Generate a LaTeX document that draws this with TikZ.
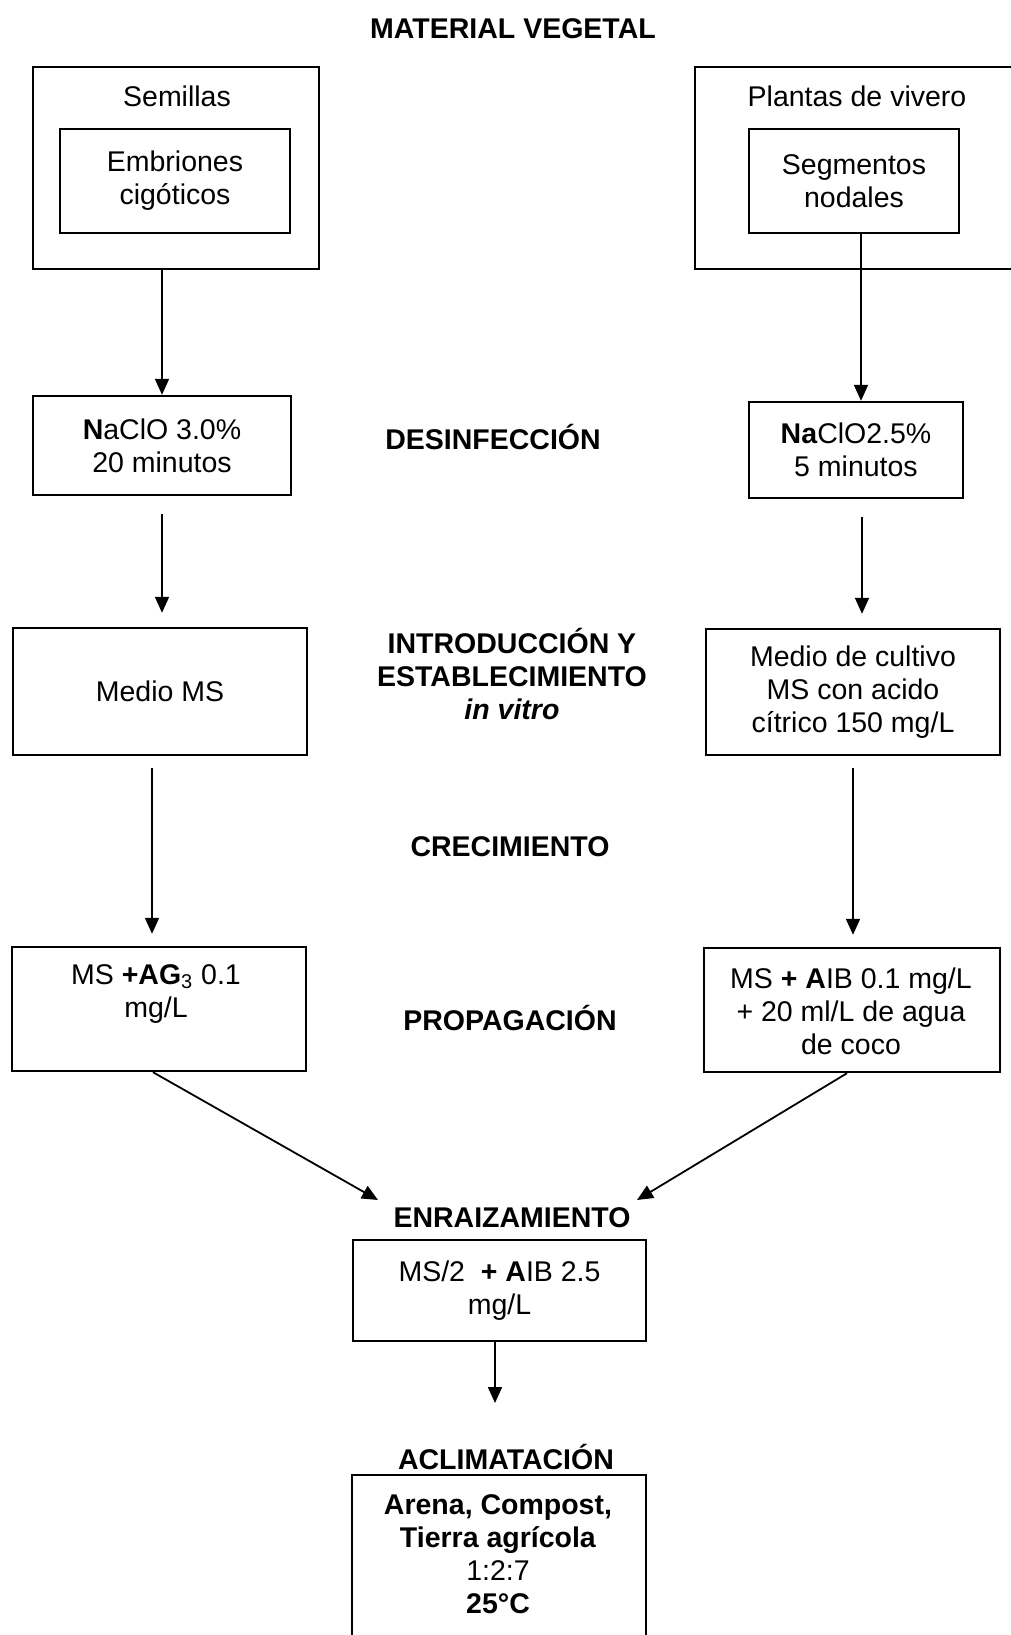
\documentclass[tikz,border=0pt]{standalone}
\usepackage{fontspec}
\setmainfont{Liberation Sans}
\usetikzlibrary{arrows.meta, positioning}

\begin{document}
\begin{tikzpicture}[
    x=0.5pt, y=-0.5pt,
    every node/.style={font=\fontsize{14.25}{16.5}\selectfont},
    box/.style={draw, line width=1.2pt, inner sep=0pt, align=center},
    head/.style={inner sep=0pt, align=center,
                 font=\fontsize{14.25}{16.5}\selectfont\bfseries},
    txt/.style={inner sep=0pt, align=center},
    arr/.style={-{Triangle[length=8pt, width=7pt]}, line width=0.9pt},
    gap/.style={shorten <=9pt, shorten >=7pt}
  ]
  \useasboundingbox[fill=white] (0,0) rectangle (1011,1635);

  \node[head] (title) at (513,29) {MATERIAL VEGETAL};

  % material de partida
  \node[box, minimum width=143pt, minimum height=101pt] (seedout) at (176,168) {};
  \node[txt] (seedtxt) at (177,96) {Semillas};
  \node[box, minimum width=115pt, minimum height=52pt] (seedin) at (175,181)
    {Embriones\\cigóticos};
  \node[box, minimum width=172.5pt, minimum height=101pt] (nurseout) at (867.5,168) {};
  \node[txt] (nursetxt) at (857,96) {Plantas de vivero};
  \node[box, minimum width=105pt, minimum height=52pt] (nursein) at (854,181)
    {Segmentos\\nodales};

  % desinfeccion
  \node[box, minimum width=129pt, minimum height=49.5pt] (dis1) at (162,445.5)
    {\textbf{N}aClO 3.0\%\\20 minutos};
  \node[head] (dislbl) at (493,437) {DESINFECCIÓN};
  \node[box, minimum width=107pt, minimum height=48pt] (dis2) at (856,450)
    {\textbf{Na}ClO2.5\%\\ 5 minutos};

  % establecimiento
  \node[box, minimum width=147pt, minimum height=63.5pt] (est1) at (160,691.5)
    {Medio MS};
  \node[head] (estlbl) at (512,674)
    {INTRODUCCIÓN Y\\ESTABLECIMIENTO\\\textit{in vitro}};
  \node[box, minimum width=147pt, minimum height=63pt] (est2) at (853,692)
    {Medio de cultivo\\MS con acido\\cítrico 150 mg/L};

  \node[head] (crelbl) at (510,847) {CRECIMIENTO};

  % propagacion
  \node[box, minimum width=147pt, minimum height=62pt] (prop1) at (159,1009) {};
  \node[txt] (prop1txt) at (156,994)
    {MS \textbf{+AG}\textsubscript{3} 0.1\\mg/L};
  \node[head] (proplbl) at (510,1018) {PROPAGACIÓN};
  \node[box, minimum width=148pt, minimum height=62pt] (prop2) at (852,1010) {};
  \node[txt] (prop2txt) at (851,1011)
    {MS \textbf{+ A}IB 0.1 mg/L\\+ 20 ml/L de agua\\de coco};

  % enraizamiento
  \node[head] (rootlbl) at (512,1218) {ENRAIZAMIENTO};
  \node[box, minimum width=146.5pt, minimum height=50.5pt] (root) at (499.5,1290.5)
    {MS/2 \ \textbf{+ A}IB 2.5\\mg/L};

  % aclimatacion
  \node[head] (acclbl) at (506,1457) {ACLIMATACIÓN};
  \node[box, minimum width=147pt, minimum height=112.5pt] (accl) at (499,1587.5) {};
  \node[txt] (accltxt) at (498,1554)
    {\textbf{Arena, Compost,}\\\textbf{Tierra agrícola}\\1:2:7\\\textbf{25°C}};

  \coordinate (tipL) at (378,1200);
  \coordinate (tipR) at (637,1200);
  \coordinate (tipA) at (495,1403);

  \draw[arr] (seedout.south -| dis1.north) -- (dis1.north);
  \draw[arr] ([xshift=3.5pt]nursein.south) -- ([xshift=3.5pt]nursein.south |- dis2.north);
  \draw[arr, gap] (dis1.south) -- (dis1.south |- est1.north);
  \draw[arr, gap] ([xshift=3pt]dis2.south) -- ([xshift=3pt]dis2.south |- est2.north);
  \draw[arr, shorten <=6pt, shorten >=6pt] ([xshift=-4pt]est1.south)
    -- ([xshift=-4pt]est1.south |- prop1.north);
  \draw[arr, shorten <=6pt, shorten >=6pt] (est2.south) -- (est2.south |- prop2.north);
  \draw[arr] ([xshift=-3pt]prop1.south) -- (tipL);
  \draw[arr] ([xshift=-2.5pt]prop2.south) -- (tipR);
  \draw[arr] (root.south -| tipA) -- (tipA);
\end{tikzpicture}
\end{document}
